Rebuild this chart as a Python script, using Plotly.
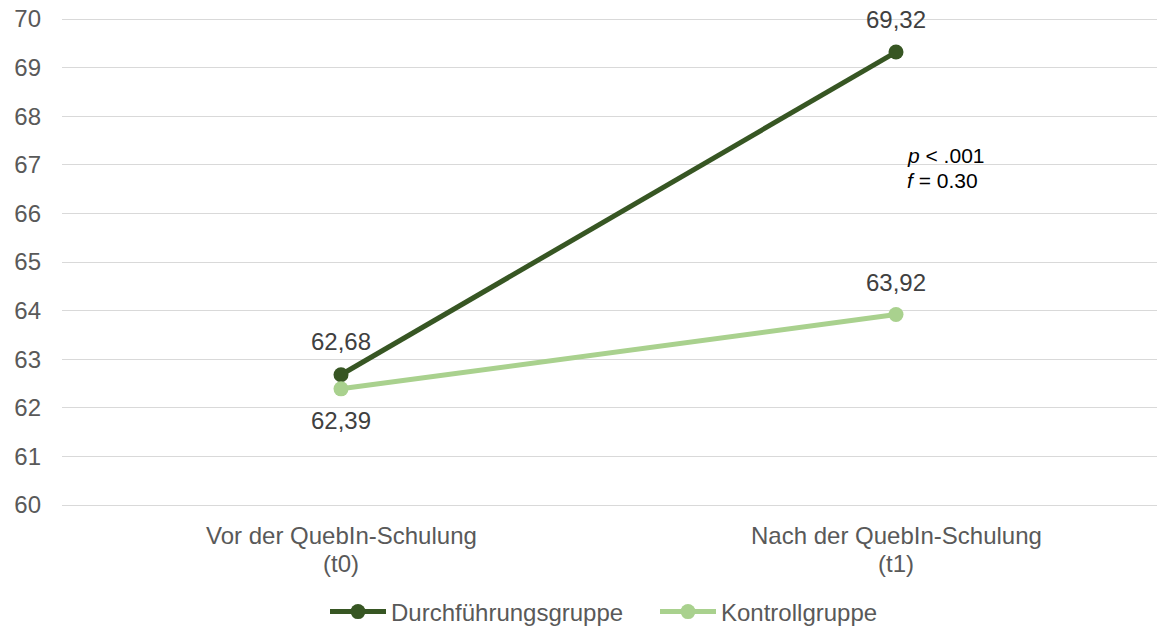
import plotly.graph_objects as go

cat_line1 = ["Vor der QuebIn-Schulung", "Nach der QuebIn-Schulung"]
cat_line2 = ["(t0)", "(t1)"]
durchfuehrung = [62.68, 69.32]
kontrolle = [62.39, 63.92]
y_ticks = [60, 61, 62, 63, 64, 65, 66, 67, 68, 69, 70]

DARK = "#375623"
LIGHT = "#A9D18E"
TXT = "#595959"
LBL = "#404040"
FONT = "Liberation Sans, Arial, sans-serif"

xpos = [0, 1]

W, H = 1157, 626
ML, MR, MT, MB = 62, 0, 14, 116
pw, ph = W - ML - MR, H - MT - MB
# pixel rows of y=70 and y=60 gridlines
Y70, Y60 = 19, 505
unit = (Y60 - Y70) / 10
y_top = 70 + (Y70 - MT) / unit
y_bot = 60 - ((H - MB) - Y60) / unit

fig = go.Figure()
fig.add_trace(go.Scatter(x=xpos, y=durchfuehrung, mode="lines+markers",
                         name="Durchführungsgruppe", legend="legend",
                         line=dict(color=DARK, width=5),
                         marker=dict(color=DARK, size=15)))
fig.add_trace(go.Scatter(x=xpos, y=kontrolle, mode="lines+markers",
                         name="Kontrollgruppe", legend="legend2",
                         line=dict(color=LIGHT, width=5),
                         marker=dict(color=LIGHT, size=15)))

def fmt(v):
    return f"{v:.2f}".replace(".", ",")

annotations = []
for i, v in enumerate(durchfuehrung):
    annotations.append(dict(x=xpos[i], y=v, text=fmt(v), showarrow=False,
                            yanchor="middle", yshift=33,
                            font=dict(size=24, color=LBL, family=FONT)))
for i, v in enumerate(kontrolle):
    shift = -32 if i == 0 else 32
    annotations.append(dict(x=xpos[i], y=v, text=fmt(v), showarrow=False,
                            yanchor="middle", yshift=shift,
                            font=dict(size=24, color=LBL, family=FONT)))

def py(pix):
    return 1 - (pix - MT) / ph

def px(pix):
    return (pix - ML) / pw

for i in range(2):
    annotations.append(dict(x=xpos[i], y=py(535), xref="x", yref="paper", yanchor="middle",
                            text=cat_line1[i], showarrow=False,
                            font=dict(size=24, color=TXT, family=FONT)))
    annotations.append(dict(x=xpos[i], y=py(563), xref="x", yref="paper", yanchor="middle",
                            text=cat_line2[i], showarrow=False,
                            font=dict(size=24, color=TXT, family=FONT)))

annotations.append(dict(x=px(905), y=py(155), xref="paper", yref="paper", showarrow=False,
                        text="<i>p</i> &lt; .001", xanchor="left", yanchor="middle",
                        font=dict(size=21, color="#000000", family=FONT)))
annotations.append(dict(x=px(905), y=py(180), xref="paper", yref="paper", showarrow=False,
                        text="<i>f</i> = 0.30", xanchor="left", yanchor="middle",
                        font=dict(size=21, color="#000000", family=FONT)))

px_per = 555
leg_common = dict(orientation="h", xref="container", yref="container",
                  xanchor="left", yanchor="middle", y=1 - 612 / H,
                  font=dict(size=24, color=TXT, family=FONT), itemwidth=56,
                  bgcolor="rgba(0,0,0,0)")
fig.update_layout(
    width=W, height=H,
    margin=dict(l=ML, r=MR, t=MT, b=MB),
    paper_bgcolor="white", plot_bgcolor="white",
    font=dict(family=FONT, color=TXT, size=24),
    xaxis=dict(range=[-(341 - ML) / px_per, (W - 341) / px_per],
               showticklabels=False, showgrid=False, zeroline=False,
               showline=False, ticks=""),
    yaxis=dict(range=[y_bot, y_top], tickvals=y_ticks, ticktext=[str(t) for t in y_ticks],
               showgrid=True, gridcolor="#D9D9D9", gridwidth=1, zeroline=False,
               showline=False, ticks="", ticklabelstandoff=20,
               tickfont=dict(size=24, color=TXT, family=FONT)),
    legend=dict(x=325 / W, **leg_common),
    legend2=dict(x=655 / W, **leg_common),
    annotations=annotations,
    showlegend=True,
)

fig.write_html("out.html", config={"displayModeBar": False},
               post_script="document.body.style.margin='0';")
